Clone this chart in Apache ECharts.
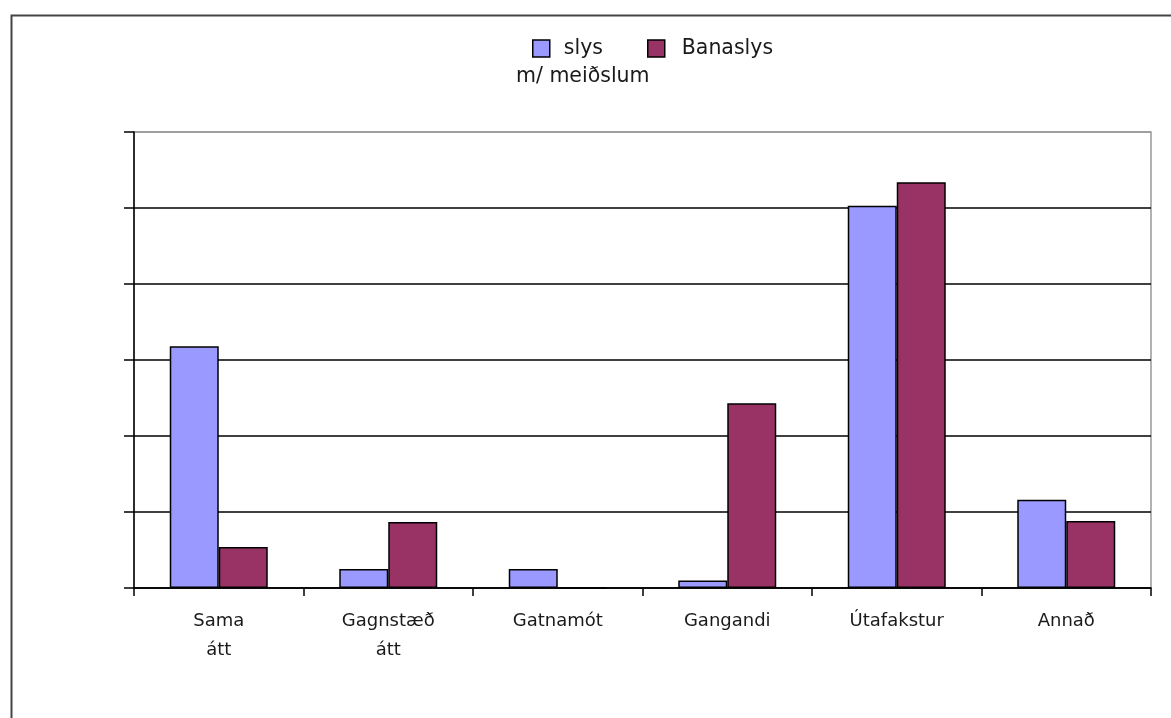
<!DOCTYPE html>
<html>
<head>
<meta charset="utf-8">
<script src="https://cdn.jsdelivr.net/npm/echarts@6/dist/echarts.min.js"></script>
<style>html,body{margin:0;padding:0;background:#fff}#c{width:1171px;height:718px}</style>
</head>
<body>
<div id="c"></div>
<script>
const categories = ['Sama\nátt', 'Gagnstæð\nátt', 'Gatnamót', 'Gangandi', 'Útafakstur', 'Annað'];
const seriesNames = ['slys m/ meiðslum', 'Banaslys'];
const injuryValues = [31.8, 2.5, 2.5, 1.0, 50.3, 11.6];
const fatalValues = [5.4, 8.7, 0, 24.3, 53.4, 8.8];

const FONT = '"DejaVu Sans", "Liberation Sans", Arial, sans-serif';
const chart = echarts.init(document.getElementById('c'), null, {renderer: 'canvas'});
chart.setOption({
  backgroundColor: '#fff',
  animation: false,
  textStyle: {fontFamily: FONT},
  graphic: [
    {type: 'rect', left: 9, top: 13, shape: {width: 1300, height: 800},
     style: {fill: 'none', stroke: '#444', lineWidth: 2}, z: -1},
    {type: 'text', left: 516, top: 66,
     style: {text: 'm/ meiðslum', font: '20.5px ' + FONT, fill: '#1a1a1a'}}
  ],
  legend: [
    {left: 532, top: 38, padding: 0, itemWidth: 17, itemHeight: 17, icon: 'rect',
     data: [seriesNames[0]], formatter: () => 'slys',
     textStyle: {fontSize: 20.5, color: '#1a1a1a', padding: [0, 0, 0, 9]},
     itemStyle: {borderColor: '#000', borderWidth: 1.5}},
    {left: 647, top: 38, padding: 0, itemWidth: 17, itemHeight: 17, icon: 'rect',
     data: [seriesNames[1]],
     textStyle: {fontSize: 20.5, color: '#1a1a1a', padding: [0, 0, 0, 12]},
     itemStyle: {borderColor: '#000', borderWidth: 1.5}}
  ],
  grid: {left: 134, right: 20, top: 132, bottom: 130, show: true,
         borderColor: '#999', borderWidth: 1.5, containLabel: false},
  xAxis: {
    type: 'category', data: categories,
    axisLine: {lineStyle: {color: '#000', width: 1.5}},
    axisTick: {show: true, length: 8, lineStyle: {color: '#000', width: 1.5}},
    axisLabel: {color: '#1a1a1a', fontSize: 18, margin: 19, lineHeight: 29, interval: 0}
  },
  yAxis: {
    type: 'value', min: 0, max: 60, interval: 10,
    axisLine: {show: true, lineStyle: {color: '#000', width: 1.5}},
    axisTick: {show: true, length: 10, lineStyle: {color: '#000', width: 1.5}},
    axisLabel: {show: false},
    splitLine: {show: true, lineStyle: {color: ['#000','#000','#000','#000','#000','#000','#999'], width: 1.5}}
  },
  series: [
    {name: seriesNames[0], type: 'bar', data: injuryValues, barWidth: 49, barGap: '0%',
     itemStyle: {color: '#9999FF', borderColor: '#000', borderWidth: 1.5}},
    {name: seriesNames[1], type: 'bar', data: fatalValues, barWidth: 49, barGap: '0%',
     itemStyle: {color: '#993366', borderColor: '#000', borderWidth: 1.5}}
  ]
});
</script>
</body>
</html>
